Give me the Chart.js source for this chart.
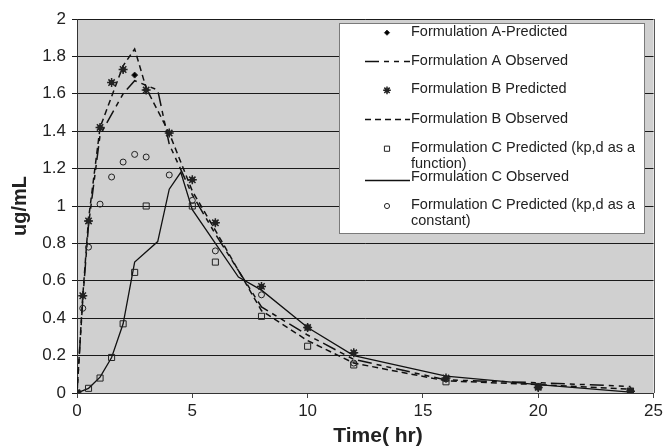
<!DOCTYPE html>
<html>
<head>
<meta charset="utf-8">
<script src="https://cdn.jsdelivr.net/npm/chart.js@4.4.0/dist/chart.umd.min.js"></script>
<style>
html, body { margin:0; padding:0; background:#fff; }
#appChartWrap { width:666px; height:446px; }
</style>
</head>
<body>
<div id="appChartWrap"><canvas id="appChart" width="666" height="446"></canvas></div>
<script>
//========================================================//
// 데이터 정의 (시간 hr / 농도 ug/mL)
//--------------------------------------------------------//
const timeAPred = [0, 0.25, 0.5, 1, 1.5, 2, 2.5, 3, 4, 5, 6, 8, 10, 12, 16, 20, 24];
const valAPred  = [0, 0.52, 0.92, 1.42, 1.66, 1.73, 1.70, 1.62, 1.39, 1.14, 0.91, 0.57, 0.35, 0.215, 0.08, 0.03, 0.01];

const timeAObs  = [0, 0.25, 0.5, 1, 2, 2.5, 3.5, 4, 5, 6, 8, 10, 12, 16, 20, 24];
const valAObs   = [0, 0.50, 0.90, 1.38, 1.60, 1.67, 1.62, 1.33, 1.06, 0.85, 0.46, 0.31, 0.18, 0.07, 0.055, 0.035];

const timeBPred = [0, 0.25, 0.5, 1, 1.5, 2, 3, 4, 5, 6, 8, 10, 12, 16, 20, 24];
const valBPred  = [0, 0.52, 0.92, 1.42, 1.66, 1.73, 1.62, 1.39, 1.14, 0.91, 0.57, 0.35, 0.215, 0.08, 0.03, 0.01];

const timeBObs  = [0, 0.25, 0.5, 1, 2, 2.5, 3, 4, 5, 6, 8, 10, 12, 16, 20, 24];
const valBObs   = [0, 0.52, 0.93, 1.42, 1.75, 1.84, 1.63, 1.39, 1.08, 0.87, 0.44, 0.28, 0.16, 0.065, 0.045, 0.02];

const timeCFunc = [0, 0.5, 1, 1.5, 2, 2.5, 3, 5, 6, 8, 10, 12, 16, 20, 24];
const valCFunc  = [0, 0.025, 0.08, 0.19, 0.37, 0.645, 1.0, 1.0, 0.70, 0.41, 0.25, 0.15, 0.06, 0.035, 0.01];

const timeCObs  = [0, 0.5, 1, 1.5, 2, 2.5, 3.5, 4, 4.5, 5, 6, 7, 8, 10, 12, 16, 20, 24];
const valCObs   = [0, 0.025, 0.085, 0.19, 0.37, 0.70, 0.81, 1.09, 1.18, 0.98, 0.80, 0.62, 0.55, 0.35, 0.20, 0.09, 0.045, 0.005];

const timeCConst = [0, 0.25, 0.5, 1, 1.5, 2, 2.5, 3, 4, 5, 6, 8, 10, 12, 16, 20, 24];
const valCConst  = [0, 0.453, 0.78, 1.01, 1.155, 1.235, 1.276, 1.262, 1.166, 1.03, 0.76, 0.525, 0.35, 0.16, 0.075, 0.03, 0.01];

// 축 눈금
const xTicks = [0, 5, 10, 15, 20, 25];
const yTicks = [0, 0.2, 0.4, 0.6, 0.8, 1, 1.2, 1.4, 1.6, 1.8, 2];

// 축 제목
const xTitle = 'Time( hr)';
const yTitle = 'ug/mL';

// 범례 문구
const legendLabels = [
	['Formulation A-Predicted'],
	['Formulation A Observed'],
	['Formulation B Predicted'],
	['Formulation B Observed'],
	['Formulation C Predicted (kp,d as a', 'function)'],
	['Formulation C Observed'],
	['Formulation C Predicted (kp,d as a', 'constant)']
];

//========================================================//
// 스타일
//--------------------------------------------------------//
const PLOT_BG   = '#d0d0d0';
const LINE_CLR  = '#111111';
const DASH_A    = [14, 5, 5, 5, 5, 5];
const DASH_B    = [6, 4];
const FONT_FAM  = '"Liberation Sans", Arial, sans-serif';

// x,y 배열 -> 포인트
let toPts = function(xs, ys) {
	return xs.map(function(x, i) { return {x: x, y: ys[i]}; });
};

// 마커 데이터셋
let markerSet = function(label, xs, ys, style, radius, fill, order, bw) {
	return {
		label: label, data: toPts(xs, ys), showLine: false, order: order,
		pointStyle: style, pointRadius: radius, pointHoverRadius: radius,
		pointBorderColor: '#222', pointBackgroundColor: fill, pointBorderWidth: bw
	};
};

// 선 데이터셋
let lineSet = function(label, xs, ys, dash, width) {
	return {
		label: label, data: toPts(xs, ys), showLine: true, order: 10,
		borderColor: LINE_CLR, borderWidth: width, borderDash: dash,
		pointRadius: 0, pointHoverRadius: 0, tension: 0, fill: false
	};
};

const datasets = [
	markerSet(legendLabels[0][0], timeAPred, valAPred, 'rectRot', 3, '#000', 5, 1),
	lineSet(legendLabels[1][0], timeAObs, valAObs, DASH_A, 1.5),
	markerSet(legendLabels[2][0], timeBPred, valBPred, 'star', 4.5, '#000', 1, 1.5),
	lineSet(legendLabels[3][0], timeBObs, valBObs, DASH_B, 1.5),
	markerSet(legendLabels[4].join(' '), timeCFunc, valCFunc, 'rect', 4.3, 'rgba(0,0,0,0)', 2, 1),
	lineSet(legendLabels[5][0], timeCObs, valCObs, [], 1.3),
	markerSet(legendLabels[6].join(' '), timeCConst, valCConst, 'circle', 3, 'rgba(0,0,0,0)', 2, 1)
];

//========================================================//
// 플롯 배경 / 테두리 / x축 제목
//--------------------------------------------------------//
const plotAreaPlugin = {
	id: 'plotArea',
	beforeDraw: function(chart) {
		const a = chart.chartArea, ctx = chart.ctx;
		ctx.save();
		ctx.fillStyle = PLOT_BG;
		ctx.fillRect(a.left, a.top, a.right - a.left, a.bottom - a.top);
		ctx.restore();
	},
	afterDatasetsDraw: function(chart) {
		const a = chart.chartArea, ctx = chart.ctx;
		ctx.save();
		ctx.strokeStyle = '#555';
		ctx.lineWidth = 1;
		ctx.beginPath();
		ctx.moveTo(Math.round(a.right) + 0.5, a.top);
		ctx.lineTo(Math.round(a.right) + 0.5, a.bottom);
		ctx.stroke();
		// x축 제목 (엑셀 원본처럼 약간 오른쪽)
		ctx.fillStyle = '#222';
		ctx.font = 'bold 21px ' + FONT_FAM;
		ctx.textAlign = 'center';
		ctx.textBaseline = 'middle';
		ctx.fillText(xTitle, 378, 436);
		ctx.restore();
	}
};

//========================================================//
// 범례 (플롯 안 박스)
//--------------------------------------------------------//
const boxLegendPlugin = {
	id: 'boxLegend',
	afterDraw: function(chart) {
		const ctx = chart.ctx;
		const bx = 339.5, by = 23.5, bw = 305, bh = 210;
		const sx = 387, lx1 = 365, lx2 = 410, tx = 411;
		const rows = [31.7, 61, 89.3, 119, 147.7, 180, 205];
		const lineH = 16.2;

		ctx.save();
		ctx.fillStyle = '#fff';
		ctx.fillRect(bx, by, bw, bh);
		ctx.strokeStyle = '#7a7a7a';
		ctx.lineWidth = 1;
		ctx.strokeRect(bx, by, bw, bh);

		ctx.font = '14.5px ' + FONT_FAM;
		ctx.textBaseline = 'middle';
		ctx.textAlign = 'left';

		chart.data.datasets.forEach(function(ds, i) {
			let y = rows[i];
			let textY = y;
			if (ds.showLine) {
				ctx.save();
				ctx.strokeStyle = LINE_CLR;
				ctx.lineWidth = ds.borderWidth;
				ctx.setLineDash(ds.borderDash || []);
				ctx.beginPath();
				ctx.moveTo(lx1, y + 0.5);
				ctx.lineTo(lx2, y + 0.5);
				ctx.stroke();
				ctx.restore();
				if (i === 5) textY = 176.7;
			} else {
				ctx.save();
				ctx.fillStyle = ds.pointBackgroundColor;
				ctx.strokeStyle = ds.pointBorderColor;
				ctx.lineWidth = ds.pointBorderWidth;
				Chart.helpers.drawPoint(ctx, {
					pointStyle: ds.pointStyle, radius: ds.pointRadius * 0.85,
					rotation: 0, borderWidth: ds.pointBorderWidth
				}, sx, y + 1);
				ctx.restore();
			}
			ctx.fillStyle = '#222';
			legendLabels[i].forEach(function(t, k) {
				ctx.fillText(t, tx, textY + k * lineH);
			});
		});
		ctx.restore();
	}
};

//========================================================//
// 차트 생성
//--------------------------------------------------------//
Chart.defaults.font.family = FONT_FAM;
Chart.defaults.color = '#222';

new Chart(document.getElementById('appChart'), {
	type: 'scatter',
	data: { datasets: datasets },
	options: {
		responsive: false,
		animation: false,
		layout: { padding: { top: 19, right: 12, bottom: 0, left: 0 } },
		plugins: {
			legend: { display: false },
			tooltip: { enabled: false }
		},
		scales: {
			x: {
				type: 'linear', min: 0, max: 25,
				afterBuildTicks: function(s) { s.ticks = xTicks.map(function(v) { return {value: v}; }); },
				afterFit: function(s) { s.height = 53; },
				ticks: { font: { size: 17 }, padding: 3, maxRotation: 0 },
				grid: { drawOnChartArea: false, drawTicks: true, tickLength: 5, color: '#444' },
				border: { display: true, color: '#333' },
				title: { display: false }
			},
			y: {
				type: 'linear', min: 0, max: 2,
				afterBuildTicks: function(s) { s.ticks = yTicks.map(function(v) { return {value: v}; }); },
				afterFit: function(s) { s.width = 77; },
				ticks: {
					font: { size: 17 }, padding: 6,
					callback: function(v) { return String(+(+v).toFixed(1)); }
				},
				grid: { color: '#1a1a1a', lineWidth: 1, tickLength: 5, drawTicks: true },
				border: { display: true, color: '#333' },
				title: { display: true, text: yTitle, font: { size: 20, weight: 'bold' }, padding: { top: 8, bottom: 0 } }
			}
		}
	},
	plugins: [plotAreaPlugin, boxLegendPlugin]
});
</script>
</body>
</html>
